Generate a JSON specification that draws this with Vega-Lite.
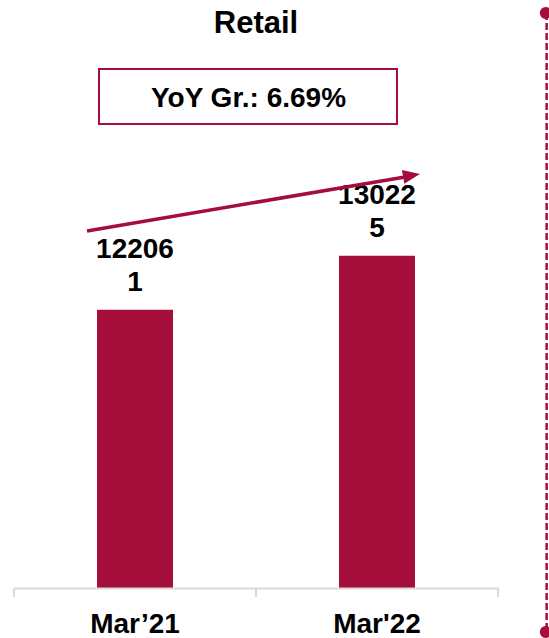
{
  "$schema": "https://vega.github.io/schema/vega-lite/v6.json",
  "autosize": {"type": "none"},
  "width": 484,
  "height": 538,
  "padding": {"left": 14, "top": 50, "right": 51, "bottom": 50},
  "background": "white",
  "config": {"view": {"stroke": null}, "font": "Liberation Sans"},
  "resolve": {"scale": {"x": "independent"}},
  "layer": [
    {
      "data": {"values": [
        {"period": "Mar’21", "value": 122061, "label": "12206\n1"},
        {"period": "Mar'22", "value": 130225, "label": "13022\n5"}
      ]},
      "encoding": {
        "x": {"field": "period", "type": "nominal", "sort": null,
          "scale": {"type": "band", "paddingInner": 0, "paddingOuter": 0},
          "axis": {"title": null, "labelAngle": 0, "labelFont": "Liberation Sans", "labelFontSize": 28, "labelFontWeight": "bold", "labelColor": "#000000", "labelBaseline": "alphabetic", "labelPadding": 44, "ticks": false, "tickSize": 0, "domainColor": "#d9d9d9", "domainWidth": 2, "grid": false, "zindex": 1}},
        "y": {"field": "value", "type": "quantitative", "scale": {"domain": [80000, 161346], "zero": false, "nice": false}, "axis": null}
      },
      "layer": [
        {
          "mark": {"type": "bar", "width": 76, "color": "#A50E3A"},
          "encoding": {"y2": {"datum": 80000}}
        },
        {
          "mark": {"type": "text", "font": "Liberation Sans", "fontSize": 28, "fontWeight": "bold", "color": "#000000", "baseline": "alphabetic", "align": "center", "lineBreak": "\n", "lineHeight": 33, "dy": -52},
          "encoding": {"text": {"field": "label"}}
        }
      ]
    },
    {
      "data": {"values": [
        {"t": 0, "y1": 80000, "y2": 78639},
        {"t": 1, "y1": 80000, "y2": 78639},
        {"t": 2, "y1": 80000, "y2": 78639}
      ]},
      "mark": {"type": "rule", "color": "#d9d9d9", "strokeWidth": 2},
      "encoding": {
        "x": {"field": "t", "type": "quantitative", "scale": {"domain": [0, 2], "zero": false, "nice": false}, "axis": null},
        "y": {"field": "y1", "type": "quantitative", "scale": {"domain": [80000, 161346], "zero": false, "nice": false}, "axis": null},
        "y2": {"field": "y2"}
      }
    },
    {
      "data": {"values": [{"x1": 0.3512, "x2": 1.5826, "y1": 158473, "y2": 150157}]},
      "mark": {"type": "rect", "fill": "white", "stroke": "#A50E3A", "strokeWidth": 2},
      "encoding": {
        "x": {"field": "x1", "type": "quantitative", "scale": {"domain": [0, 2], "zero": false, "nice": false}, "axis": null},
        "x2": {"field": "x2"},
        "y": {"field": "y1", "type": "quantitative", "scale": {"domain": [80000, 161346], "zero": false, "nice": false}, "axis": null},
        "y2": {"field": "y2"}
      }
    },
    {
      "data": {"values": [
        {"text": "YoY Gr.: 6.69%", "x": 0.969, "y": 152727, "size": 28, "font": "Liberation Sans"},
        {"text": "Retail", "x": 1.0, "y": 163916, "size": 31, "font": "Lato"}
      ]},
      "mark": {"type": "text", "fontWeight": "bold", "color": "#000000", "baseline": "alphabetic", "align": "center"},
      "encoding": {
        "x": {"field": "x", "type": "quantitative", "scale": {"domain": [0, 2], "zero": false, "nice": false}, "axis": null},
        "y": {"field": "y", "type": "quantitative", "scale": {"domain": [80000, 161346], "zero": false, "nice": false}, "axis": null},
        "text": {"field": "text"},
        "size": {"field": "size", "type": "quantitative", "scale": null},
        "font": {"field": "font"}
      }
    },
    {
      "data": {"values": [
        {"x": 0.3017, "y": 133978},
        {"x": 1.6157, "y": 142143}
      ]},
      "mark": {"type": "line", "color": "#A50E3A", "strokeWidth": 3.5, "clip": false},
      "encoding": {
        "x": {"field": "x", "type": "quantitative", "scale": {"domain": [0, 2], "zero": false, "nice": false}, "axis": null},
        "y": {"field": "y", "type": "quantitative", "scale": {"domain": [80000, 161346], "zero": false, "nice": false}, "axis": null}
      }
    },
    {
      "data": {"values": [{"x": 1.6426, "y": 142370}]},
      "mark": {"type": "point", "shape": "M-1,-0.82L1,0L-1,0.82Z", "filled": true, "color": "#A50E3A", "opacity": 1, "size": 289, "angle": 350.3},
      "encoding": {
        "x": {"field": "x", "type": "quantitative", "scale": {"domain": [0, 2], "zero": false, "nice": false}, "axis": null},
        "y": {"field": "y", "type": "quantitative", "scale": {"domain": [80000, 161346], "zero": false, "nice": false}, "axis": null}
      }
    },
    {
      "data": {"values": [{"x": 2.201, "y1": 166940, "y2": 73347}]},
      "mark": {"type": "rule", "color": "#A50E3A", "strokeWidth": 2.5, "strokeDash": [7, 3]},
      "encoding": {
        "x": {"field": "x", "type": "quantitative", "scale": {"domain": [0, 2], "zero": false, "nice": false}, "axis": null},
        "y": {"field": "y1", "type": "quantitative", "scale": {"domain": [80000, 161346], "zero": false, "nice": false}, "axis": null},
        "y2": {"field": "y2"}
      }
    },
    {
      "data": {"values": [{"x": 2.197, "y": 166940}, {"x": 2.197, "y": 73347}]},
      "mark": {"type": "point", "shape": "circle", "filled": true, "color": "#A50E3A", "opacity": 1, "size": 140},
      "encoding": {
        "x": {"field": "x", "type": "quantitative", "scale": {"domain": [0, 2], "zero": false, "nice": false}, "axis": null},
        "y": {"field": "y", "type": "quantitative", "scale": {"domain": [80000, 161346], "zero": false, "nice": false}, "axis": null}
      }
    }
  ]
}
